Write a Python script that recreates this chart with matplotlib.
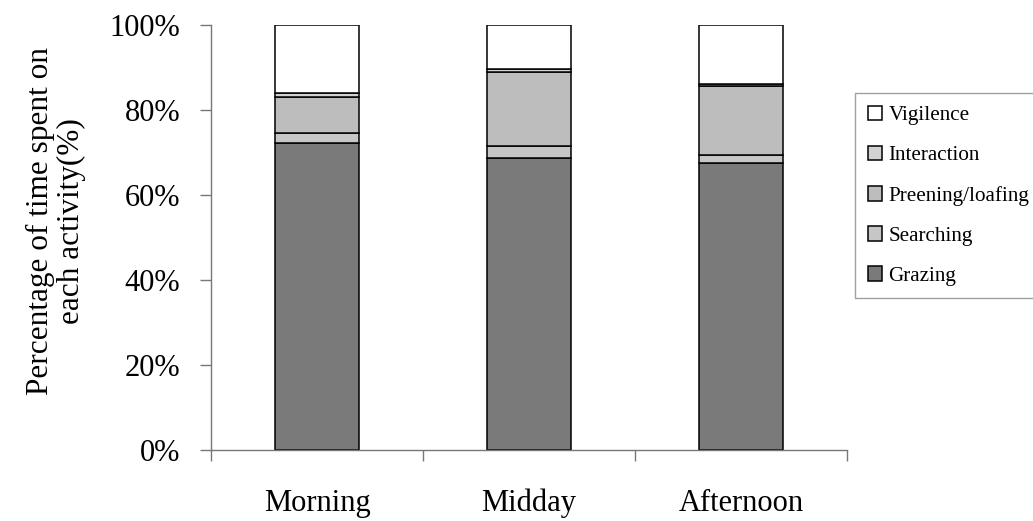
import matplotlib
matplotlib.use("Agg")
import matplotlib.pyplot as plt
import numpy as np

periods = ["Morning", "Midday", "Afternoon"]
activities = ["Grazing", "Searching", "Preening/loafing", "Interaction", "Vigilence"]

# percentage of time per activity, one value per period
grazing = [72.3, 68.8, 67.6]
searching = [2.4, 2.8, 1.9]
preening = [8.4, 17.4, 16.2]
interaction = [0.9, 0.7, 0.4]
vigilence = [16.0, 10.3, 13.9]

colours = ["#7a7a7a", "#c6c6c6", "#bdbdbd", "#d2d2d2", "#ffffff"]

plt.rcParams['font.family'] = ['Liberation Serif', 'DejaVu Serif']

fig = plt.figure(figsize=(10.33, 5.21), dpi=100)
ax = fig.add_axes([0.2043, 0.1363, 0.6157, 0.8157])

x = np.arange(len(periods))
bottom = np.zeros(len(periods))
handles = []
for name, vals, c in zip(activities, [grazing, searching, preening, interaction, vigilence], colours):
    b = ax.bar(x, vals, width=0.4, bottom=bottom, color=c, edgecolor="black",
               linewidth=1.1, label=name)
    handles.append(b)
    bottom += np.array(vals)

ax.set_xlim(-0.5, 2.5)
ax.set_ylim(0, 100)
ax.set_yticks([0, 20, 40, 60, 80, 100])
ax.set_yticklabels(["0%", "20%", "40%", "60%", "80%", "100%"], fontsize=22)
ax.set_xticks(x)
ax.set_xticklabels(periods, fontsize=22)
ax.set_xticks([-0.5, 0.5, 1.5, 2.5], minor=True)

for s in ["top", "right"]:
    ax.spines[s].set_visible(False)
for s in ["left", "bottom"]:
    ax.spines[s].set_color("#777777")
    ax.spines[s].set_linewidth(1.0)

ax.tick_params(axis="y", direction="out", length=8, width=1, color="#777777", pad=14)
ax.tick_params(axis="x", which="major", length=0, pad=28)
ax.tick_params(axis="x", which="minor", direction="out", length=8, width=1, color="#777777")

fig.text(0.054, 0.576, "Percentage of time spent on\neach activity(%)", rotation=90,
         ha="center", va="center", fontsize=22.5, linespacing=1.1)

leg = fig.legend(handles[::-1], activities[::-1], loc="upper left",
                 bbox_to_anchor=(855 / 1033, 1 - 93 / 521), fontsize=15.2,
                 frameon=True, fancybox=False, edgecolor="#888888",
                 handlelength=0.7, handleheight=0.7, handletextpad=0.28,
                 labelspacing=0.96, borderpad=0.6, borderaxespad=0)
leg.get_frame().set_linewidth(1.0)

fig.savefig("out.png", dpi=100)
